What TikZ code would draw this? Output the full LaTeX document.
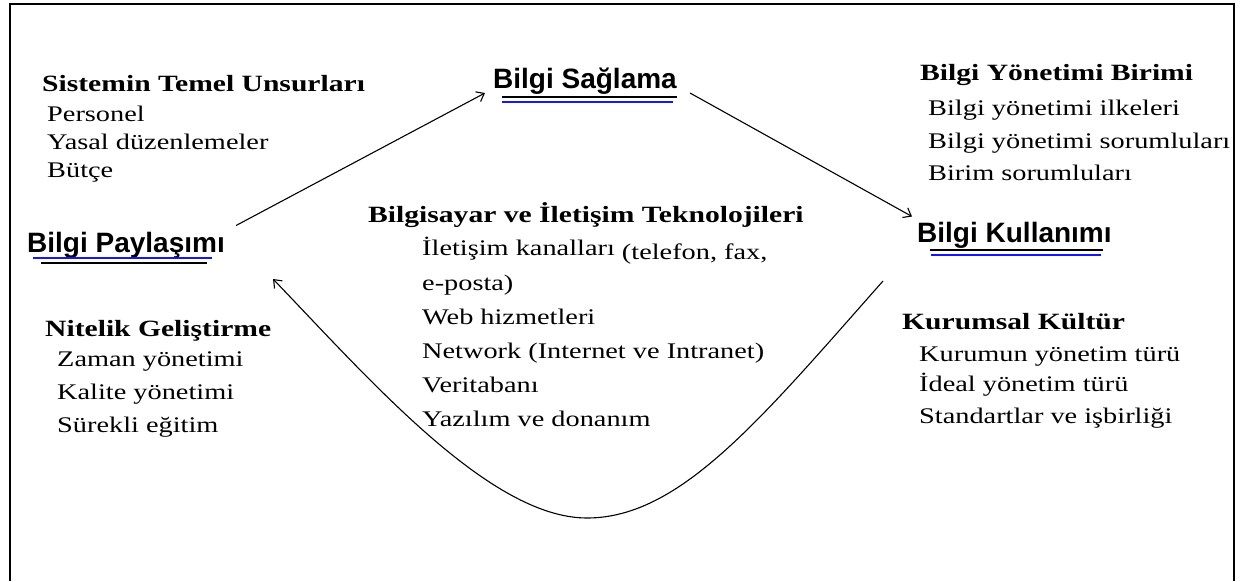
\documentclass[tikz,border=0pt]{standalone}
\usepackage{fontspec}
\setmainfont{Liberation Serif}[FakeStretch=1.27]
\newfontfamily\arialfont{Liberation Sans}
\usetikzlibrary{arrows.meta,calc}
\definecolor{ulblue}{RGB}{20,20,255}
\begin{document}
\begin{tikzpicture}[x=1pt,y=-1pt,
  hd/.style={anchor=base west, inner sep=0pt, font=\fontsize{23.3}{28}\selectfont\bfseries},
  itm/.style={anchor=base west, inner sep=0pt, font=\fontsize{22.3}{28}\selectfont},
  keynode/.style={anchor=base west, inner sep=0pt, font=\arialfont\fontsize{28}{32}\selectfont\bfseries},
  conn/.style={line width=1.1pt, -{Straight Barb[length=7pt,width=11pt]}},
  ul/.style={line width=1.6pt}]
\useasboundingbox (0,0) rectangle (1241,581);
% frame
\draw[line width=2.2pt] (10,581) -- (10,4) -- (1234,4) -- (1234,581);

% top-left block
\node[hd] (h1) at (42,91) {Sistemin Temel Unsurları};
\node[itm] (h1a) at (47,121) {Personel};
\node[itm] (h1b) at (47,149) {Yasal düzenlemeler};
\node[itm] (h1c) at (47,177) {Bütçe};

% key nodes
\node[keynode] (pay) at (27,252) {Bilgi Paylaşımı};
\node[keynode] (sag) at (493,88) {Bilgi Sağlama};
\node[keynode] (kul) at (917,242) {Bilgi Kullanımı};

% top-right block
\node[hd] (h2) at (920,80) {Bilgi Yönetimi Birimi};
\node[itm] (h2a) at (928,115) {Bilgi yönetimi ilkeleri};
\node[itm] (h2b) at (928,148) {Bilgi yönetimi sorumluları};
\node[itm] (h2c) at (928,180) {Birim sorumluları};

% centre block
\node[hd] (h3) at (368,222) {Bilgisayar ve İletişim Teknolojileri};
\node[itm] (h3a) at (422,255) {İletişim kanalları \raisebox{-4pt}{(telefon, fax,}};
\node[itm] (h3b) at (422,290) {e-posta)};
\node[itm] (h3c) at (422,324) {Web hizmetleri};
\node[itm] (h3d) at (422,358) {Network (Internet ve Intranet)};
\node[itm] (h3e) at (422,392) {Veritabanı};
\node[itm] (h3f) at (422,426) {Yazılım ve donanım};

% bottom-left block
\node[hd] (h4) at (45,336) {Nitelik Geliştirme};
\node[itm] (h4a) at (57,366) {Zaman yönetimi};
\node[itm] (h4b) at (57,399) {Kalite yönetimi};
\node[itm] (h4c) at (57,432) {Sürekli eğitim};

% bottom-right block
\node[hd] (h5) at (902,329) {Kurumsal Kültür};
\node[itm] (h5a) at (919,361) {Kurumun yönetim türü};
\node[itm] (h5b) at (919,391) {İdeal yönetim türü};
\node[itm] (h5c) at (919,423) {Standartlar ve işbirliği};

% underlines
\draw[ul,ulblue] (33,258) -- (212,258);
\draw[ul] (41,263) -- (207,263);
\draw[ul] (502,97) -- (677,97);
\draw[ul,ulblue] (502,102) -- (673,102);
\draw[ul] (930,250) -- (1103,250);
\draw[ul,ulblue] (931,255) -- (1101,255);

% connectors
\draw[conn] ([xshift=11pt,yshift=6pt]pay.north east) -- ([xshift=-8pt,yshift=-5pt]sag.base west);
\draw[conn] ([xshift=13pt,yshift=-5pt]sag.base east) -- ([xshift=-5pt,yshift=5pt]kul.north west);
\coordinate (bottom) at (587,518);
\draw[conn] ([xshift=-34pt,yshift=-39pt]kul.base west)
  .. controls (760,420) and (680,518) .. (bottom)
  .. controls (490,518) and (370,380) .. ([xshift=48pt,yshift=-27pt]pay.base east);
\end{tikzpicture}
\end{document}
